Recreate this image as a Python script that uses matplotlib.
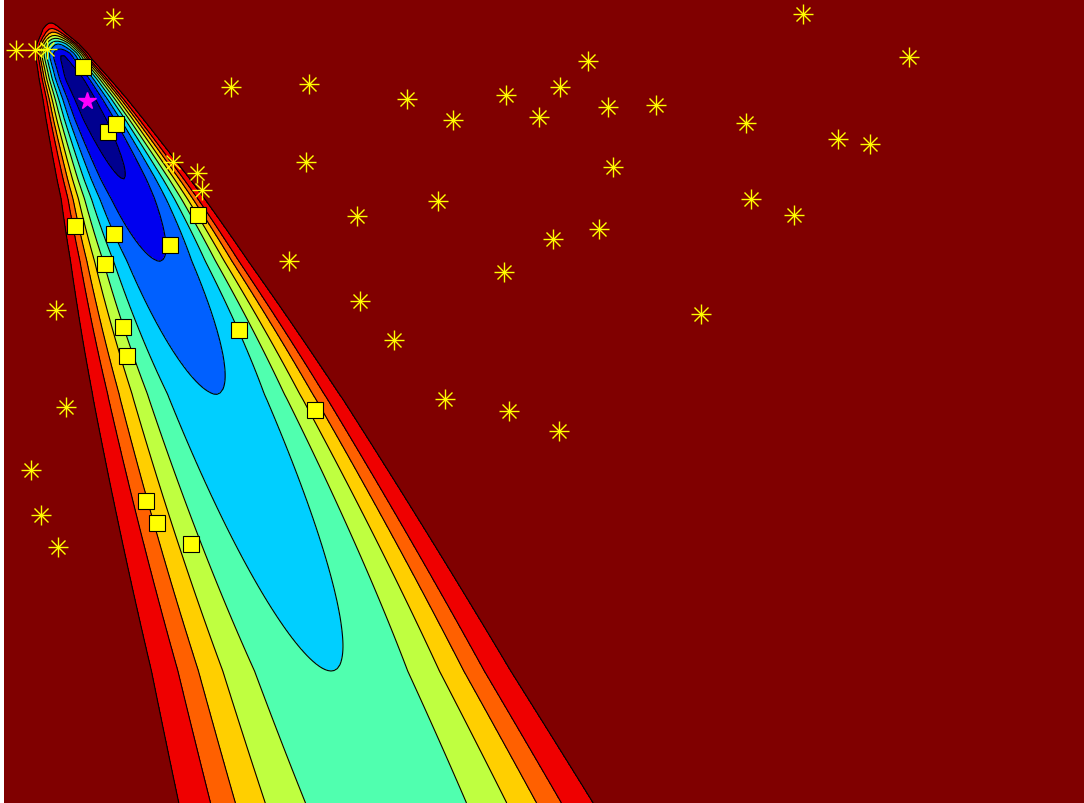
import numpy as np
import matplotlib

matplotlib.use("Agg")
import matplotlib.pyplot as plt

# ridge of the misfit surface (x centre, half-width scale and floor value along y)
ridge_y = [20, 30, 60, 100, 200, 400, 804]
ridge_x = [50, 52, 64, 85, 133, 218, 386]
floor_y = [10, 22, 35, 45, 55, 80, 120, 180, 262, 395, 672, 804]
floor_v = [14, 10, 6.5, 3.0, 1.0, 0.4, 0.5, 1.0, 2.0, 3.0, 4.0, 4.2]
width_y = [0, 30, 60, 100, 200, 400, 804]
width_v = [3, 7, 9.5, 14, 25, 49, 90]

levels = [-1, 1, 2, 3, 4, 5, 6, 7, 8, 9.5, 100]
band_colors = ["#00008f", "#0000ef", "#0060ff", "#00cfff", "#50ffaf",
               "#bfff40", "#ffcf00", "#ff6000", "#ef0000", "#800000"]

# yellow squares
sq_x = [83, 108, 116, 75, 114, 105, 170, 198, 123, 127, 239, 315, 146, 157, 191]
sq_y = [68, 133, 125, 227, 235, 265, 246, 216, 328, 357, 331, 411, 502, 524, 545]

# best point
best_x = [87]
best_y = [102]

# asterisks
ast_x = [16, 35, 47, 113, 231, 173, 197, 202, 309, 407, 453, 506, 539, 560,
         588, 608, 656, 306, 438, 357, 289, 613, 553, 599, 504, 360, 803, 909,
         746, 838, 870, 751, 794, 701, 56, 66, 31, 41, 58, 394, 445, 509, 559]
ast_y = [51, 51, 50, 19, 88, 163, 174, 191, 85, 100, 121, 96, 118, 88,
         62, 108, 106, 163, 202, 217, 262, 168, 240, 230, 273, 302, 15, 58,
         124, 140, 145, 200, 216, 315, 311, 408, 471, 516, 548, 341, 400, 412, 432]

xs = np.linspace(4, 1084, 361)
ys = np.linspace(0, 804, 269)
X, Y = np.meshgrid(xs, ys)
xc = np.interp(Y, ridge_y, ridge_x)
w = np.interp(Y, width_y, width_v)
h = np.interp(Y, floor_y, floor_v)
F = h + ((X - xc) / w) ** 2
F = np.minimum(F, 50)

fig = plt.figure(figsize=(10.84, 8.04), dpi=100)
fig.patch.set_facecolor("white")
ax = fig.add_axes([4 / 1084, 0, 1080 / 1084, 803 / 804])

ax.contourf(X, Y, F, levels=levels, colors=band_colors)
ax.contour(X, Y, F, levels=levels[1:-1], colors="k", linewidths=0.8)

ax.plot(ast_x, ast_y, linestyle="none", marker="+", markersize=14,
        markeredgewidth=1.0, color="#ffff00")
ax.plot(ast_x, ast_y, linestyle="none", marker="x", markersize=10,
        markeredgewidth=1.0, color="#ffff00")
ax.plot(sq_x, sq_y, linestyle="none", marker="s", markersize=11,
        markerfacecolor="#ffff00", markeredgecolor="k", markeredgewidth=0.8)
ax.plot(best_x, best_y, linestyle="none", marker="*", markersize=13,
        color="#ff00ff")

ax.set_xlim(4, 1084)
ax.set_ylim(804, 1)
ax.set_axis_off()

fig.savefig("out.png", dpi=100)
